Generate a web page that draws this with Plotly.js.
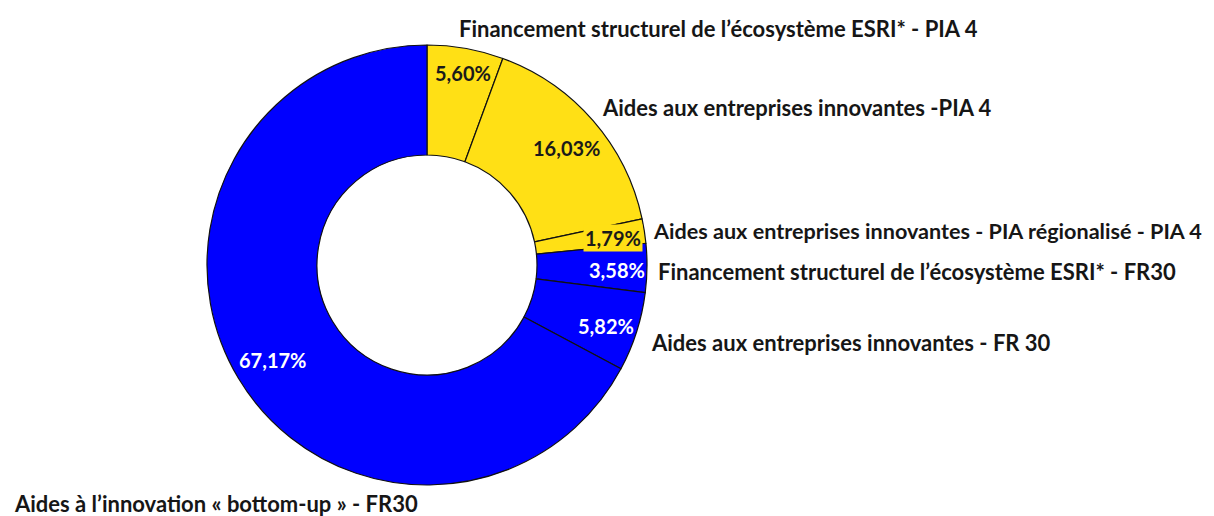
<!DOCTYPE html>
<html><head><meta charset="utf-8">
<script src="https://cdn.plot.ly/plotly-3.0.1.min.js"></script>
<style>html,body{margin:0;padding:0;background:#fff;}#chart{width:1214px;height:516px;}</style>
</head><body><div id="chart"></div>
<script>
var labels = [
  "Financement structurel de l’écosystème ESRI* - PIA 4",
  "Aides aux entreprises innovantes -PIA 4",
  "Aides aux entreprises innovantes - PIA régionalisé - PIA 4",
  "Financement structurel de l’écosystème ESRI* - FR30",
  "Aides aux entreprises innovantes - FR 30",
  "Aides à l’innovation « bottom-up » - FR30"
];
var values = [5.60, 16.03, 1.79, 3.58, 5.82, 67.17];
var pctText = ["5,60%", "16,03%", "1,79%", "3,58%", "5,82%", "67,17%"];
var colors = ["#FFE015", "#FFE015", "#FFE015", "#0000FF", "#0000FF", "#0000FF"];
var pctColors = ["#1a1a1a", "#1a1a1a", "#1a1a1a", "#ffffff", "#ffffff", "#ffffff"];

// layout (pixel positions of the labels)
var W = 1214, H = 516;
var cx = 427, cy = 265, R = 220;
var outPos = [[457, 29], [600, 107], [651, 231], [656, 271], [649, 342], [12, 503]];
var outSize = [22, 22, 21.6, 22, 22, 22];
var inPos = [[463, 73], [566, 148], [613, 238], [617, 270], [606, 326], [272, 360]];
var inBg = [null, null, "#FFE015", null, null, null];

var FONT = "Lato, 'Open Sans', sans-serif";
var ann = [];
labels.forEach(function (l, i) {
  ann.push({xref: "paper", yref: "paper", x: outPos[i][0] / W, y: 1 - outPos[i][1] / H,
    xanchor: "left", yanchor: "middle", showarrow: false, text: "<b>" + l + "</b>",
    font: {family: FONT, size: outSize[i], color: "#161616"}});
});
pctText.forEach(function (t, i) {
  var a = {xref: "paper", yref: "paper", x: inPos[i][0] / W, y: 1 - inPos[i][1] / H,
    xanchor: "center", yanchor: "middle", showarrow: false, text: "<b>" + t + "</b>",
    font: {family: FONT, size: 20, color: pctColors[i]}, borderpad: 1};
  if (inBg[i]) a.bgcolor = inBg[i];
  ann.push(a);
});

var trace = {
  type: "pie", labels: labels, values: values, hole: 0.5, sort: false,
  direction: "clockwise", rotation: 0, textinfo: "none", hoverinfo: "label+percent",
  marker: {colors: colors, line: {color: "#111", width: 1.2}},
  domain: {x: [(cx - R) / W, (cx + R) / W], y: [(H - cy - R) / H, (H - cy + R) / H]}
};

Plotly.newPlot("chart", [trace], {
  width: W, height: H, margin: {l: 0, r: 0, t: 0, b: 0},
  showlegend: false, paper_bgcolor: "#fff", annotations: ann
}, {displayModeBar: false, staticPlot: true});
</script></body></html>
